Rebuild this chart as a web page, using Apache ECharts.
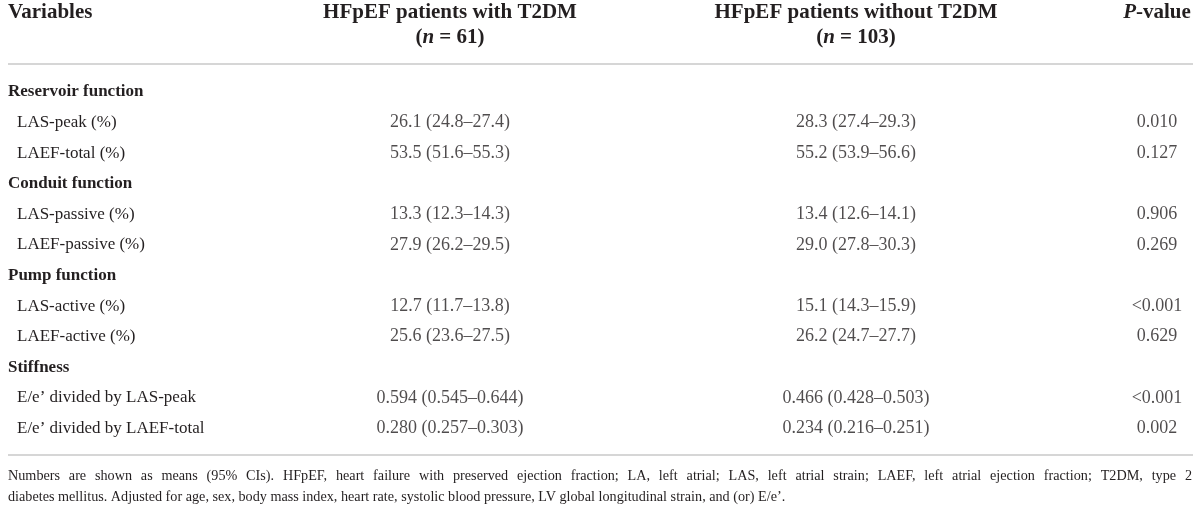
<!DOCTYPE html>
<html lang="en">
  <head>
    <meta charset="UTF-8" />
    <title>LA function in HFpEF with and without T2DM</title>
    <style>
      html, body { margin: 0; padding: 0; background: #fff; }
    </style>
  </head>
  <body>
    <div id="main" style="width: 1200px; height: 509px"></div>
    <script src="https://cdn.jsdelivr.net/npm/echarts@6/dist/echarts.min.js"></script>
    <script>
      // table rows (top to bottom)
      const rowLabels = [
        "Reservoir function",
        "LAS-peak (%)",
        "LAEF-total (%)",
        "Conduit function",
        "LAS-passive (%)",
        "LAEF-passive (%)",
        "Pump function",
        "LAS-active (%)",
        "LAEF-active (%)",
        "Stiffness",
        "E/e\u2019 divided by LAS-peak",
        "E/e\u2019 divided by LAEF-total",
      ];
      const sectionRows = ["Reservoir function", "Conduit function", "Pump function", "Stiffness"];
      const decimals = [null, 1, 1, null, 1, 1, null, 1, 1, null, 3, 3];

      // HFpEF with T2DM (n = 61): mean and 95% CI
      const withMean = [null, 26.1, 53.5, null, 13.3, 27.9, null, 12.7, 25.6, null, 0.594, 0.28];
      const withLow = [null, 24.8, 51.6, null, 12.3, 26.2, null, 11.7, 23.6, null, 0.545, 0.257];
      const withHigh = [null, 27.4, 55.3, null, 14.3, 29.5, null, 13.8, 27.5, null, 0.644, 0.303];

      // HFpEF without T2DM (n = 103)
      const withoutMean = [null, 28.3, 55.2, null, 13.4, 29.0, null, 15.1, 26.2, null, 0.466, 0.234];
      const withoutLow = [null, 27.4, 53.9, null, 12.6, 27.8, null, 14.3, 24.7, null, 0.428, 0.216];
      const withoutHigh = [null, 29.3, 56.6, null, 14.1, 30.3, null, 15.9, 27.7, null, 0.503, 0.251];

      const pValues = ["", "0.010", "0.127", "", "0.906", "0.269", "", "<0.001", "0.629", "", "<0.001", "0.002"];

      const footnote = [
        "Numbers are shown as means (95% CIs). HFpEF, heart failure with preserved ejection fraction; LA, left atrial; LAS, left atrial strain; LAEF, left atrial ejection fraction; T2DM, type 2",
        "diabetes mellitus. Adjusted for age, sex, body mass index, heart rate, systolic blood pressure, LV global longitudinal strain, and (or) E/e\u2019.",
      ];

      // layout
      const FONT = "Liberation Serif";
      const INK = "#231f20";
      const RULE = "#d6d6d6";
      const colX = { withT2dm: 450, withoutT2dm: 856, pValue: 1157 };
      const NOTE_FONT = "14.2px " + FONT;
      const LEFT = 8;
      const RIGHT = 1193;

      function ciText(mean, low, high, i) {
        const d = decimals[i];
        return mean[i].toFixed(d) + " (" + low[i].toFixed(d) + "\u2013" + high[i].toFixed(d) + ")";
      }

      function columnData(x, textOf) {
        const out = [];
        rowLabels.forEach(function (name, i) {
          const t = textOf(i);
          if (t) out.push({ value: [x, i], text: t });
        });
        return out;
      }

      function cellSeries(data) {
        return {
          type: "scatter",
          data: data,
          symbolSize: 1,
          itemStyle: { color: "rgba(0,0,0,0)" },
          silent: true,
          label: {
            show: true,
            position: "inside",
            fontFamily: FONT,
            fontSize: 18,
            color: INK,
            formatter: function (p) {
              return p.data.text;
            },
          },
        };
      }

      // justified first footnote line: one text element per word
      function justifiedLine(text, y) {
        const ctx = document.createElement("canvas").getContext("2d");
        ctx.font = NOTE_FONT;
        const words = text.split(" ");
        const widths = words.map(function (w) {
          return ctx.measureText(w).width;
        });
        const total = widths.reduce(function (a, b) {
          return a + b;
        }, 0);
        const gap = (RIGHT - 1 - LEFT - total) / (words.length - 1);
        const els = [];
        let x = LEFT;
        words.forEach(function (w, i) {
          els.push({
            type: "text",
            style: { x: x, y: y, text: w, font: NOTE_FONT, fill: INK, textAlign: "left", textVerticalAlign: "middle" },
          });
          x += widths[i] + gap;
        });
        return els;
      }

      const headRich = {
        b: { fontFamily: FONT, fontSize: 21, fontWeight: "bold", fill: INK, lineHeight: 25 },
        bi: { fontFamily: FONT, fontSize: 21, fontWeight: "bold", fontStyle: "italic", fill: INK, lineHeight: 25 },
      };

      var chartDom = document.getElementById("main");
      var myChart = echarts.init(chartDom);
      var option = {
        animation: false,
        backgroundColor: "#fff",
        grid: { left: 0, right: 0, top: 76.7, bottom: 65.2 },
        xAxis: { type: "value", min: 0, max: 1200, show: false },
        yAxis: {
          type: "category",
          inverse: true,
          data: rowLabels,
          axisLine: { show: false },
          axisTick: { show: false },
          splitLine: { show: false },
          axisLabel: {
            inside: true,
            margin: 8,
            formatter: function (v) {
              return sectionRows.indexOf(v) >= 0 ? "{sec|" + v + "}" : "{item|" + v + "}";
            },
            rich: {
              sec: { fontFamily: FONT, fontSize: 17, fontWeight: "bold", color: INK },
              item: { fontFamily: FONT, fontSize: 17, color: INK, padding: [0, 0, 0, 9] },
            },
          },
        },
        series: [
          cellSeries(
            columnData(colX.withT2dm, function (i) {
              return withMean[i] == null ? "" : ciText(withMean, withLow, withHigh, i);
            })
          ),
          cellSeries(
            columnData(colX.withoutT2dm, function (i) {
              return withoutMean[i] == null ? "" : ciText(withoutMean, withoutLow, withoutHigh, i);
            })
          ),
          cellSeries(
            columnData(colX.pValue, function (i) {
              return pValues[i];
            })
          ),
        ],
        graphic: [
          {
            type: "text",
            style: { x: LEFT, y: 0, text: "{b|Variables}", rich: headRich, textAlign: "left", textVerticalAlign: "top" },
          },
          {
            type: "text",
            style: {
              x: colX.withT2dm,
              y: 0,
              text: "{b|HFpEF patients with T2DM}\n{b|(}{bi|n}{b| = 61)}",
              rich: headRich,
              textAlign: "center",
              textVerticalAlign: "top",
            },
          },
          {
            type: "text",
            style: {
              x: colX.withoutT2dm,
              y: 0,
              text: "{b|HFpEF patients without T2DM}\n{b|(}{bi|n}{b| = 103)}",
              rich: headRich,
              textAlign: "center",
              textVerticalAlign: "top",
            },
          },
          {
            type: "text",
            style: {
              x: colX.pValue,
              y: 0,
              text: "{bi|P}{b|-value}",
              rich: headRich,
              textAlign: "center",
              textVerticalAlign: "top",
            },
          },
          {
            type: "line",
            shape: { x1: LEFT, y1: 64, x2: RIGHT, y2: 64 },
            style: { stroke: RULE, lineWidth: 2 },
          },
          {
            type: "line",
            shape: { x1: LEFT, y1: 455, x2: RIGHT, y2: 455 },
            style: { stroke: RULE, lineWidth: 2 },
          },
        ]
          .concat(justifiedLine(footnote[0], 476))
          .concat([
            {
              type: "text",
              style: {
                x: LEFT,
                y: 497,
                text: footnote[1],
                font: NOTE_FONT,
                fill: INK,
                textAlign: "left",
                textVerticalAlign: "middle",
              },
            },
          ]),
      };
      myChart.setOption(option);
    </script>
  </body>
</html>
